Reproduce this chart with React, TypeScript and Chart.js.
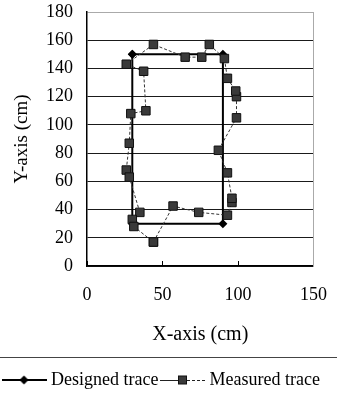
import React, { useEffect, useRef } from "react";
import { Chart, registerables } from "chart.js";

Chart.register(...registerables);

const seriesNames = ["Designed trace", "Measured trace"];

const designedX = [30, 90, 90, 30, 30];
const designedY = [150, 150, 30, 30, 150];

const measuredX = [44, 57, 74, 93, 96, 96, 93, 87, 99, 99, 98.5, 93, 91, 81, 76, 65, 44, 26, 37.5, 39, 29, 28, 26, 28, 35, 30, 31, 44];
const measuredY = [17, 42.5, 38, 36, 45, 48, 66, 82, 105, 120, 124, 133, 147, 157, 148, 148, 157, 143, 138, 110, 108, 87, 68, 63, 38, 33, 28, 17];

const xTicks = [0, 50, 100, 150];
const yTicks = [0, 20, 40, 60, 80, 100, 120, 140, 160, 180];

const xTitle = "X-axis (cm)";
const yTitle = "Y-axis (cm)";

const FONT = "'Liberation Serif', 'Times New Roman', serif";

function makeLegendImage(kind: "designed" | "measured"): HTMLCanvasElement {
  const c = document.createElement("canvas");
  c.width = 45;
  c.height = 14;
  const g = c.getContext("2d")!;
  const cy = 7;
  if (kind === "designed") {
    g.strokeStyle = "#000";
    g.lineWidth = 2;
    g.beginPath();
    g.moveTo(0, cy);
    g.lineTo(45, cy);
    g.stroke();
    g.fillStyle = "#000";
    g.beginPath();
    g.moveTo(22.5, cy - 4.5);
    g.lineTo(27, cy);
    g.lineTo(22.5, cy + 4.5);
    g.lineTo(18, cy);
    g.closePath();
    g.fill();
  } else {
    g.strokeStyle = "#222";
    g.lineWidth = 1;
    g.beginPath();
    g.moveTo(0, cy + 0.5);
    g.lineTo(18, cy + 0.5);
    g.stroke();
    g.setLineDash([3, 2]);
    g.beginPath();
    g.moveTo(27, cy + 0.5);
    g.lineTo(45, cy + 0.5);
    g.stroke();
    g.setLineDash([]);
    g.fillStyle = "#3a3a3a";
    g.fillRect(18.5, cy - 4, 8, 8);
    g.strokeStyle = "#111";
    g.strokeRect(18.5, cy - 4, 8, 8);
  }
  return c;
}

const separatorPlugin = {
  id: "separator",
  afterDraw(chart: any) {
    const lg = chart.legend;
    if (!lg) return;
    const ctx = chart.ctx;
    const y = Math.round(lg.top - 8) + 0.5;
    ctx.save();
    ctx.strokeStyle = "#444";
    ctx.lineWidth = 1;
    ctx.beginPath();
    ctx.moveTo(0, y);
    ctx.lineTo(chart.width, y);
    ctx.stroke();
    ctx.restore();
  },
};

export default function App() {
  const ref = useRef<HTMLCanvasElement | null>(null);

  useEffect(() => {
    if (!ref.current) return;
    const imgs = [makeLegendImage("designed"), makeLegendImage("measured")];
    const chart = new Chart(ref.current, {
      type: "scatter",
      data: {
        datasets: [
          {
            label: seriesNames[0],
            data: designedX.map((x, i) => ({ x, y: designedY[i] })),
            showLine: true,
            borderColor: "#000",
            borderWidth: 2,
            backgroundColor: "#000",
            pointStyle: "rectRot",
            pointRadius: 4.5,
            pointBorderWidth: 0,
            pointBackgroundColor: "#000",
            order: 2,
          },
          {
            label: seriesNames[1],
            data: measuredX.map((x, i) => ({ x, y: measuredY[i] })),
            showLine: true,
            borderColor: "#333",
            borderWidth: 1,
            borderDash: [3, 2],
            pointStyle: "rect",
            pointRadius: 6,
            pointBorderWidth: 1,
            pointBorderColor: "#111",
            pointBackgroundColor: "#3a3a3a",
            order: 1,
          },
        ],
      },
      options: {
        animation: false,
        responsive: false,
        devicePixelRatio: 1,
        layout: { padding: { top: 0, left: 0, right: 0, bottom: 10 } },
        plugins: {
          tooltip: { enabled: false },
          legend: {
            position: "bottom",
            align: "start",
            labels: {
              usePointStyle: true,
              pointStyleWidth: 36,
              padding: 6,
              color: "#000",
              font: { family: FONT, size: 18 },
              generateLabels: (c: any) =>
                c.data.datasets.map((ds: any, i: number) => ({
                  text: ds.label,
                  pointStyle: imgs[i],
                  datasetIndex: i,
                  hidden: false,
                  lineWidth: 0,
                  strokeStyle: "transparent",
                  fillStyle: "transparent",
                  fontColor: "#000",
                })),
            },
          },
        },
        scales: {
          x: {
            type: "linear",
            min: 0,
            max: 150,
            afterBuildTicks: (s: any) => {
              s.ticks = xTicks.map((v) => ({ value: v }));
            },
            afterFit: (s: any) => {
              s.height = 99;
              s.paddingRight = 12;
              s.paddingLeft = 12;
            },
            grid: {
              drawOnChartArea: false,
              drawTicks: true,
              tickLength: -5,
              tickColor: "#000",
              tickWidth: 1,
            },
            border: { color: "#000", width: 1.5 },
            ticks: {
              padding: 23.5,
              color: "#000",
              font: { family: FONT, size: 18 },
              maxRotation: 0,
            },
            title: {
              display: true,
              text: xTitle,
              color: "#000",
              font: { family: FONT, size: 20 },
              padding: { top: 0, bottom: 18 },
            },
          },
          y: {
            type: "linear",
            position: "left",
            min: 0,
            max: 180,
            afterBuildTicks: (s: any) => {
              s.ticks = yTicks.map((v) => ({ value: v }));
            },
            afterFit: (s: any) => {
              s.width = 87;
              s.paddingTop = 12;
              s.paddingBottom = 0;
            },
            grid: {
              drawTicks: false,
              color: (ctx: any) => (ctx.tick && ctx.tick.value === 180 ? "#aaa" : "#1a1a1a"),
              lineWidth: 1,
            },
            border: { color: "#000", width: 1.5 },
            ticks: {
              padding: 14,
              color: "#000",
              font: { family: FONT, size: 18 },
            },
            title: {
              display: true,
              text: yTitle,
              color: "#000",
              font: { family: FONT, size: 19 },
              padding: { top: 11, bottom: 0 },
            },
          },
          y2: {
            type: "linear",
            position: "right",
            min: 0,
            max: 180,
            afterFit: (s: any) => {
              s.width = 23.5;
              s.paddingTop = 0;
              s.paddingBottom = 0;
            },
            grid: { display: false, drawTicks: false },
            ticks: { display: false },
            border: { color: "#aaa", width: 1 },
          },
        },
      },
      plugins: [separatorPlugin],
    } as any);
    return () => chart.destroy();
  }, []);

  return (
    <div style={{ position: "fixed", left: 0, top: 0, width: 337, height: 409, background: "#fff" }}>
      <canvas ref={ref} width={337} height={409} />
    </div>
  );
}
